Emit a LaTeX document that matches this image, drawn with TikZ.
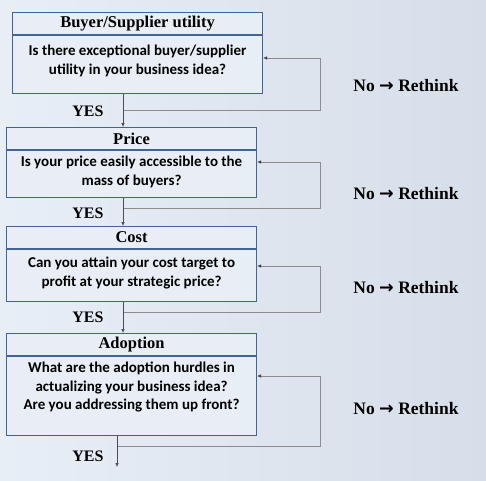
\documentclass[tikz,border=0pt]{standalone}
\usepackage{fontspec}
\setmainfont{Liberation Serif}
\newfontfamily\bodyfont{Carlito}
\newfontfamily\arrowfont{DejaVu Sans}
\usetikzlibrary{arrows.meta}

\definecolor{boxblue}{RGB}{65,100,150}
\definecolor{boxfill}{RGB}{234,239,247}
\definecolor{loopgray}{RGB}{140,140,140}
\definecolor{bgleft}{RGB}{232,238,246}
\definecolor{bgright}{RGB}{214,222,233}

% question text, top aligned inside the box
\newcommand{\qtext}[3]{\parbox[c][#1][t]{250pt}{\centering\vspace*{#2}#3}}
\newcommand{\rethink}{No {\arrowfont\bfseries →} Rethink}

\begin{document}
\begin{tikzpicture}[x=1pt, y=-1pt,
  head/.style={draw=boxblue, line width=1.1pt, fill=boxfill, fill opacity=0.9, text opacity=1,
    minimum width=250pt, minimum height=22pt, inner sep=0pt, font=\fontsize{16.5}{18}\selectfont\bfseries},
  question/.style={draw=boxblue, line width=1.1pt, fill=boxfill, fill opacity=0.9, text opacity=1,
    minimum width=250pt, inner sep=0pt, anchor=north, font=\bodyfont\fontsize{15}{18.5}\selectfont\bfseries},
  yes/.style={draw=black!70, line width=0.6pt, -{Latex[length=4pt,width=3.5pt]}},
  back/.style={draw=loopgray, line width=0.6pt, arrows={-{Latex[length=4pt,width=3.5pt,color=black!75]}}},
  lbl/.style={font=\fontsize{16}{18}\selectfont\bfseries},
  nolbl/.style={font=\fontsize{17.5}{19}\selectfont\bfseries}]

\shade[left color=bgleft, right color=bgright] (0,0) rectangle (486,480);
\useasboundingbox (0,0) rectangle (486,480);

% Buyer/Supplier utility
\node (h1) [head, anchor=north west] at (12,12) {Buyer/Supplier utility};
\node (b1) [question, minimum height=58pt] at (h1.south) {\qtext{56pt}{8.5pt}{Is there exceptional buyer/supplier\\utility in your business idea?}};

% Price
\node (h2) [head, anchor=north west] at (6,127) {Price};
\node (b2) [question, minimum height=47pt] at (h2.south) {\qtext{45pt}{4.5pt}{Is your price easily accessible to the\\mass of buyers?}};

% Cost
\node (h3) [head, anchor=north west] at (6,226) {Cost};
\node (b3) [question, minimum height=52pt] at (h3.south) {\qtext{50pt}{6.5pt}{Can you attain your cost target to\\profit at your strategic price?}};

% Adoption
\node (h4) [head, anchor=north west] at (6,333) {Adoption};
\node (b4) [question, minimum height=79pt] at (h4.south) {\qtext{77pt}{4.5pt}{What are the adoption hurdles in\\actualizing your business idea?\\Are you addressing them up front?}};

% loop corners and trunk points
\coordinate (s1) at (123,110);
\coordinate (r1) at (320,58);
\coordinate (s2) at (123,208);
\coordinate (r2) at (320,162);
\coordinate (s3) at (123,312);
\coordinate (r3) at (320,266);
\coordinate (s4) at (117,446);
\coordinate (r4) at (320,376);
\coordinate (out) at (117,467);

\draw[back] (s1) -| (r1) -- (b1.east |- r1);
\draw[back] (s2) -| (r2) -- (b2.east |- r2);
\draw[back] (s3) -| (r3) -- (b3.east |- r3);
\draw[back] (s4) -| (r4) -- (b4.east |- r4);

\draw[yes] (b1.south -| s1) -- (h2.north -| s1);
\draw[yes] (b2.south -| s2) -- (h3.north -| s2);
\draw[yes] (b3.south -| s3) -- (h4.north -| s3);
\draw[yes] (b4.south -| s4) -- (out);

\node (y1) [lbl] at (88,111) {YES};
\node (y2) [lbl] at (88,213) {YES};
\node (y3) [lbl] at (88,317) {YES};
\node (y4) [lbl] at (88,456) {YES};

\node (n1) [nolbl] at (406,86) {\rethink};
\node (n2) [nolbl] at (406,194) {\rethink};
\node (n3) [nolbl] at (406,288) {\rethink};
\node (n4) [nolbl] at (406,409) {\rethink};

\end{tikzpicture}
\end{document}
